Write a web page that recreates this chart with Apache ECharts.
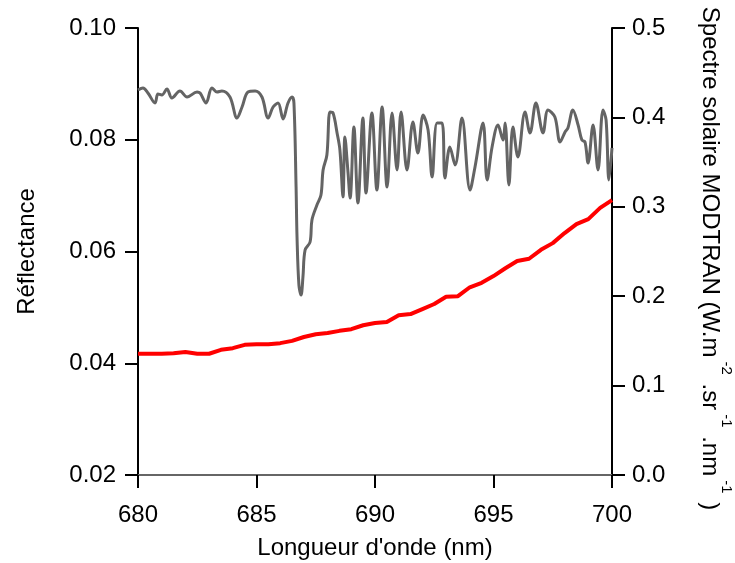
<!DOCTYPE html>
<html>
<head>
<meta charset="utf-8">
<script src="https://cdn.jsdelivr.net/npm/echarts@6/dist/echarts.min.js"></script>
<style>
html,body{margin:0;padding:0;background:#fff;}
#chart{width:735px;height:563px;}
</style>
</head>
<body>
<div id="chart"></div>
<script>
// Wavelength ticks / axis ranges
var xTicks = [680, 685, 690, 695, 700];
var leftTicks = [0.02, 0.04, 0.06, 0.08, 0.10];
var rightTicks = [0.0, 0.1, 0.2, 0.3, 0.4, 0.5];

// Red series: reflectance (left axis)
var reflWavelength = [680, 680.5, 681, 681.5, 682, 682.5, 683, 683.5, 684, 684.5, 685, 685.5, 686, 686.5, 687, 687.5, 688, 688.5, 689, 689.5, 690, 690.5, 691, 691.5, 692, 692.5, 693, 693.5, 694, 694.5, 695, 695.5, 696, 696.5, 697, 697.5, 698, 698.5, 699, 699.5, 700];
var reflValue = [0.0417, 0.0417, 0.0417, 0.0418, 0.0420, 0.0417, 0.0417, 0.0424, 0.0427, 0.0433, 0.0434, 0.0434, 0.0436, 0.0440, 0.0447, 0.0452, 0.0454, 0.0458, 0.0461, 0.0468, 0.0472, 0.0474, 0.0486, 0.0488, 0.0497, 0.0506, 0.0519, 0.0520, 0.0536, 0.0544, 0.0556, 0.0570, 0.0583, 0.0587, 0.0603, 0.0615, 0.0633, 0.0649, 0.0658, 0.0678, 0.0692];

// Gray series: MODTRAN solar spectrum (right axis)
var solarWavelength = [680.00, 680.21, 680.42, 680.72, 680.84, 681.01, 681.22, 681.43, 681.77, 682.07, 682.49, 682.62, 682.87, 683.12, 683.33, 683.54, 683.88, 684.18, 684.39, 684.64, 684.94, 685.23, 685.49, 685.70, 685.91, 686.12, 686.33, 686.50, 686.58, 686.67, 686.71, 686.79, 686.88, 686.96, 687.05, 687.26, 687.34, 687.55, 687.72, 687.81, 687.97, 688.10, 688.23, 688.40, 688.52, 688.65, 688.73, 688.86, 688.95, 689.11, 689.28, 689.49, 689.62, 689.87, 690.08, 690.30, 690.51, 690.72, 690.93, 691.10, 691.35, 691.60, 691.81, 692.03, 692.24, 692.41, 692.62, 692.83, 692.95, 693.16, 693.38, 693.67, 694.01, 694.22, 694.56, 694.73, 694.94, 695.19, 695.40, 695.49, 695.65, 695.82, 696.03, 696.33, 696.54, 696.79, 697.09, 697.30, 697.59, 697.81, 698.02, 698.14, 698.35, 698.57, 698.73, 698.86, 698.99, 699.20, 699.41, 699.62, 699.75, 699.87, 700.00];
var solarValue = [0.4306, 0.4329, 0.4273, 0.4161, 0.4262, 0.4251, 0.4318, 0.4217, 0.4295, 0.4228, 0.4284, 0.4273, 0.4161, 0.4329, 0.4284, 0.4295, 0.4228, 0.3993, 0.4116, 0.4284, 0.4295, 0.4228, 0.3993, 0.4116, 0.4161, 0.3982, 0.4161, 0.4228, 0.4161, 0.3221, 0.2662, 0.2125, 0.2013, 0.2215, 0.2517, 0.2606, 0.2852, 0.3020, 0.3132, 0.3412, 0.3579, 0.4060, 0.4049, 0.3826, 0.3635, 0.3110, 0.3781, 0.3389, 0.3098, 0.3893, 0.3043, 0.3993, 0.3154, 0.4049, 0.3188, 0.4116, 0.3221, 0.4049, 0.3412, 0.4060, 0.3412, 0.3949, 0.3602, 0.4027, 0.3859, 0.3333, 0.3937, 0.3937, 0.3322, 0.3669, 0.3468, 0.3993, 0.3188, 0.3445, 0.3937, 0.3300, 0.3669, 0.3915, 0.3747, 0.3937, 0.3244, 0.3893, 0.3557, 0.4060, 0.3826, 0.4161, 0.3826, 0.4083, 0.4004, 0.3725, 0.3837, 0.3881, 0.4083, 0.3915, 0.3747, 0.3725, 0.3490, 0.3915, 0.3412, 0.4083, 0.3971, 0.3300, 0.3658];

var xTitle = "Longueur d'onde (nm)";
var leftTitle = "Réflectance";

function zip(a, b) { return a.map(function (v, i) { return [v, b[i]]; }); }

var FONT = "'Liberation Sans', Arial, sans-serif";
var chart = echarts.init(document.getElementById('chart'), null, {renderer: 'canvas'});
chart.setOption({
  animation: false,
  backgroundColor: '#ffffff',
  grid: {left: 138, right: 123, top: 28, bottom: 88, containLabel: false, outerBoundsMode: 'none'},
  xAxis: {
    type: 'value', min: xTicks[0], max: xTicks[xTicks.length - 1], interval: xTicks[1] - xTicks[0],
    name: xTitle, nameLocation: 'middle', nameGap: 61,
    nameTextStyle: {fontFamily: FONT, fontSize: 24, color: '#000'},
    axisLine: {show: true, onZero: false, lineStyle: {color: '#666', width: 2}},
    axisTick: {show: true, inside: false, length: 13, lineStyle: {color: '#000', width: 2}},
    axisLabel: {fontFamily: FONT, fontSize: 24, color: '#000', margin: 28},
    splitLine: {show: false}
  },
  yAxis: [
    {
      type: 'value', position: 'left', min: leftTicks[0], max: leftTicks[leftTicks.length - 1], interval: 0.02,
      name: leftTitle, nameLocation: 'middle', nameGap: 99, nameRotate: 90,
      nameTextStyle: {fontFamily: FONT, fontSize: 24, color: '#000'},
      axisLine: {show: true, onZero: false, lineStyle: {color: '#000', width: 2}},
      axisTick: {show: true, inside: false, length: 13, lineStyle: {color: '#000', width: 2}},
      axisLabel: {fontFamily: FONT, fontSize: 24, color: '#000', margin: 22, formatter: function (v) { return v.toFixed(2); }},
      splitLine: {show: false}
    },
    {
      type: 'value', position: 'right', min: rightTicks[0], max: rightTicks[rightTicks.length - 1], interval: 0.1,
      name: '{n|Spectre solaire MODTRAN (W.m}{s|-2}{n| .sr}{s|-1}{n| .nm}{s|-1}{n| )}',
      nameLocation: 'middle', nameGap: 86, nameRotate: -90,
      nameTextStyle: {
        fontFamily: FONT, fontSize: 24, color: '#000', padding: [0, 0, 0, 14],
        rich: {
          n: {fontFamily: FONT, fontSize: 24, color: '#000', lineHeight: 36, verticalAlign: 'bottom'},
          s: {fontFamily: FONT, fontSize: 15, color: '#000', lineHeight: 36, verticalAlign: 'top', padding: [0, 2, 0, 4]}
        }
      },
      axisLine: {show: true, onZero: false, lineStyle: {color: '#000', width: 2}},
      axisTick: {show: true, inside: false, length: 13, lineStyle: {color: '#000', width: 2}},
      axisLabel: {fontFamily: FONT, fontSize: 24, color: '#000', margin: 20, formatter: function (v) { return v.toFixed(1); }},
      splitLine: {show: false}
    }
  ],
  series: [
    {
      type: 'line', yAxisIndex: 1, data: zip(solarWavelength, solarValue),
      showSymbol: false, smooth: 0.35,
      lineStyle: {color: '#646464', width: 3}, itemStyle: {color: '#646464'}
    },
    {
      type: 'line', yAxisIndex: 0, data: zip(reflWavelength, reflValue),
      showSymbol: false, smooth: false,
      lineStyle: {color: '#ff0000', width: 4}, itemStyle: {color: '#ff0000'}
    }
  ]
});
</script>
</body>
</html>
